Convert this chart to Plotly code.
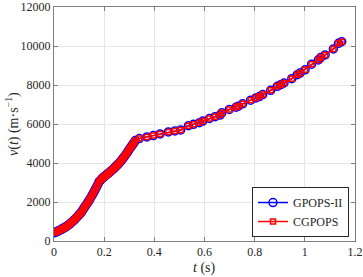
import plotly.graph_objects as go

# Time (s) and velocity (m/s)
t_vals = [0, 0.005, 0.01, 0.015, 0.02, 0.025, 0.03, 0.035, 0.04, 0.045, 0.05, 0.055,
          0.06, 0.065, 0.07, 0.075, 0.08, 0.085, 0.09, 0.095, 0.10, 0.105, 0.11, 0.115,
          0.12, 0.125, 0.13, 0.135, 0.14, 0.145, 0.15, 0.155, 0.16, 0.165, 0.17, 0.175,
          0.18, 0.185, 0.19, 0.195, 0.20, 0.205, 0.21, 0.215, 0.22, 0.225, 0.23, 0.235,
          0.24, 0.245, 0.25, 0.255, 0.26, 0.265, 0.27, 0.275, 0.28, 0.285, 0.29, 0.295,
          0.30, 0.305, 0.31, 0.315, 0.32, 0.324,
          0.340, 0.370, 0.396, 0.423, 0.456, 0.482, 0.505, 0.536, 0.556, 0.580, 0.593,
          0.620, 0.642, 0.662, 0.669, 0.699, 0.726, 0.735, 0.752, 0.784, 0.805, 0.819,
          0.832, 0.864, 0.890, 0.904, 0.917, 0.948, 0.970, 0.981, 1.001, 1.027, 1.054,
          1.063, 1.081, 1.114, 1.134, 1.147]
v_vals = [420, 445, 470, 500, 530, 565, 600, 635, 670, 710, 750, 795,
          840, 895, 950, 1010, 1070, 1135, 1200, 1270, 1340, 1415, 1490, 1595,
          1700, 1790, 1880, 1980, 2080, 2190, 2300, 2415, 2530, 2655, 2780, 2910,
          3040, 3110, 3180, 3240, 3300, 3350, 3400, 3455, 3510, 3565, 3620, 3680,
          3740, 3800, 3860, 3930, 4000, 4075, 4150, 4235, 4320, 4410, 4500, 4600,
          4700, 4790, 4880, 4970, 5060, 5150,
          5253, 5339, 5405, 5491, 5593, 5644, 5695, 5914, 5983, 6068, 6152,
          6288, 6373, 6458, 6576, 6745, 6864, 6915, 7033, 7220, 7339, 7406,
          7508, 7729, 7932, 8018, 8102, 8323, 8527, 8611, 8780, 9068, 9288,
          9407, 9543, 9848, 10135, 10220]

x_ticks = [0, 0.2, 0.4, 0.6, 0.8, 1, 1.2]
x_tick_text = ["0", "0.2", "0.4", "0.6", "0.8", "1", "1.2"]
y_ticks = [0, 2000, 4000, 6000, 8000, 10000, 12000]
y_tick_text = ["0", "2000", "4000", "6000", "8000", "10000", "12000"]

FONT = "Liberation Serif"
TXT = "#262626"

fig = go.Figure()
fig.add_trace(go.Scatter(
    x=t_vals, y=v_vals, mode="lines+markers", name="GPOPS-II",
    line=dict(color="#0000ff", width=1.5),
    marker=dict(symbol="circle-open", size=8, color="#0000ff", line=dict(width=1.5)),
))
fig.add_trace(go.Scatter(
    x=t_vals, y=v_vals, mode="lines+markers", name="CGPOPS",
    line=dict(color="#ff0000", width=1.5),
    marker=dict(symbol="square-open", size=5, color="#ff0000", line=dict(width=1.5)),
))

axis_common = dict(
    showline=True, linecolor="#7f7f7f", linewidth=1, mirror="ticks",
    ticks="inside", ticklen=4, tickcolor="#7f7f7f",
    showgrid=True, gridcolor="#e6e6e6", gridwidth=1, zeroline=False,
    tickfont=dict(family=FONT, size=12, color=TXT), automargin=False,
    ticklabeloverflow="allow",
)

fig.update_layout(
    width=363, height=277,
    margin=dict(l=54, r=8, t=7, b=36),
    paper_bgcolor="white", plot_bgcolor="white",
    font=dict(family=FONT, size=12, color=TXT),
    xaxis=dict(range=[0, 1.2], tickvals=x_ticks, ticktext=x_tick_text, **axis_common),
    yaxis=dict(range=[0, 12000], tickvals=y_ticks, ticktext=y_tick_text, **axis_common),
    legend=dict(x=0.98, y=0.017, xanchor="right", yanchor="bottom",
                bgcolor="white", bordercolor=TXT, borderwidth=1,
                font=dict(family=FONT, size=12, color=TXT),
                itemwidth=30, tracegroupgap=0),
    showlegend=True,
    annotations=[
        dict(text="<i>t</i> (s)", xref="paper", yref="paper", x=0.5, y=0,
             yshift=-27, xanchor="center", yanchor="middle", showarrow=False,
             font=dict(family=FONT, size=14, color=TXT)),
        dict(text="<i>v</i>(<i>t</i>) (m·s<sup>−1</sup>)", xref="paper", yref="paper",
             x=0, y=0.5, xshift=-42, xanchor="center", yanchor="middle",
             textangle=-90, showarrow=False,
             font=dict(family=FONT, size=14, color=TXT)),
    ],
)

fig.write_html("out.html", config={"displayModeBar": False},
               post_script="document.body.style.margin='0';")
